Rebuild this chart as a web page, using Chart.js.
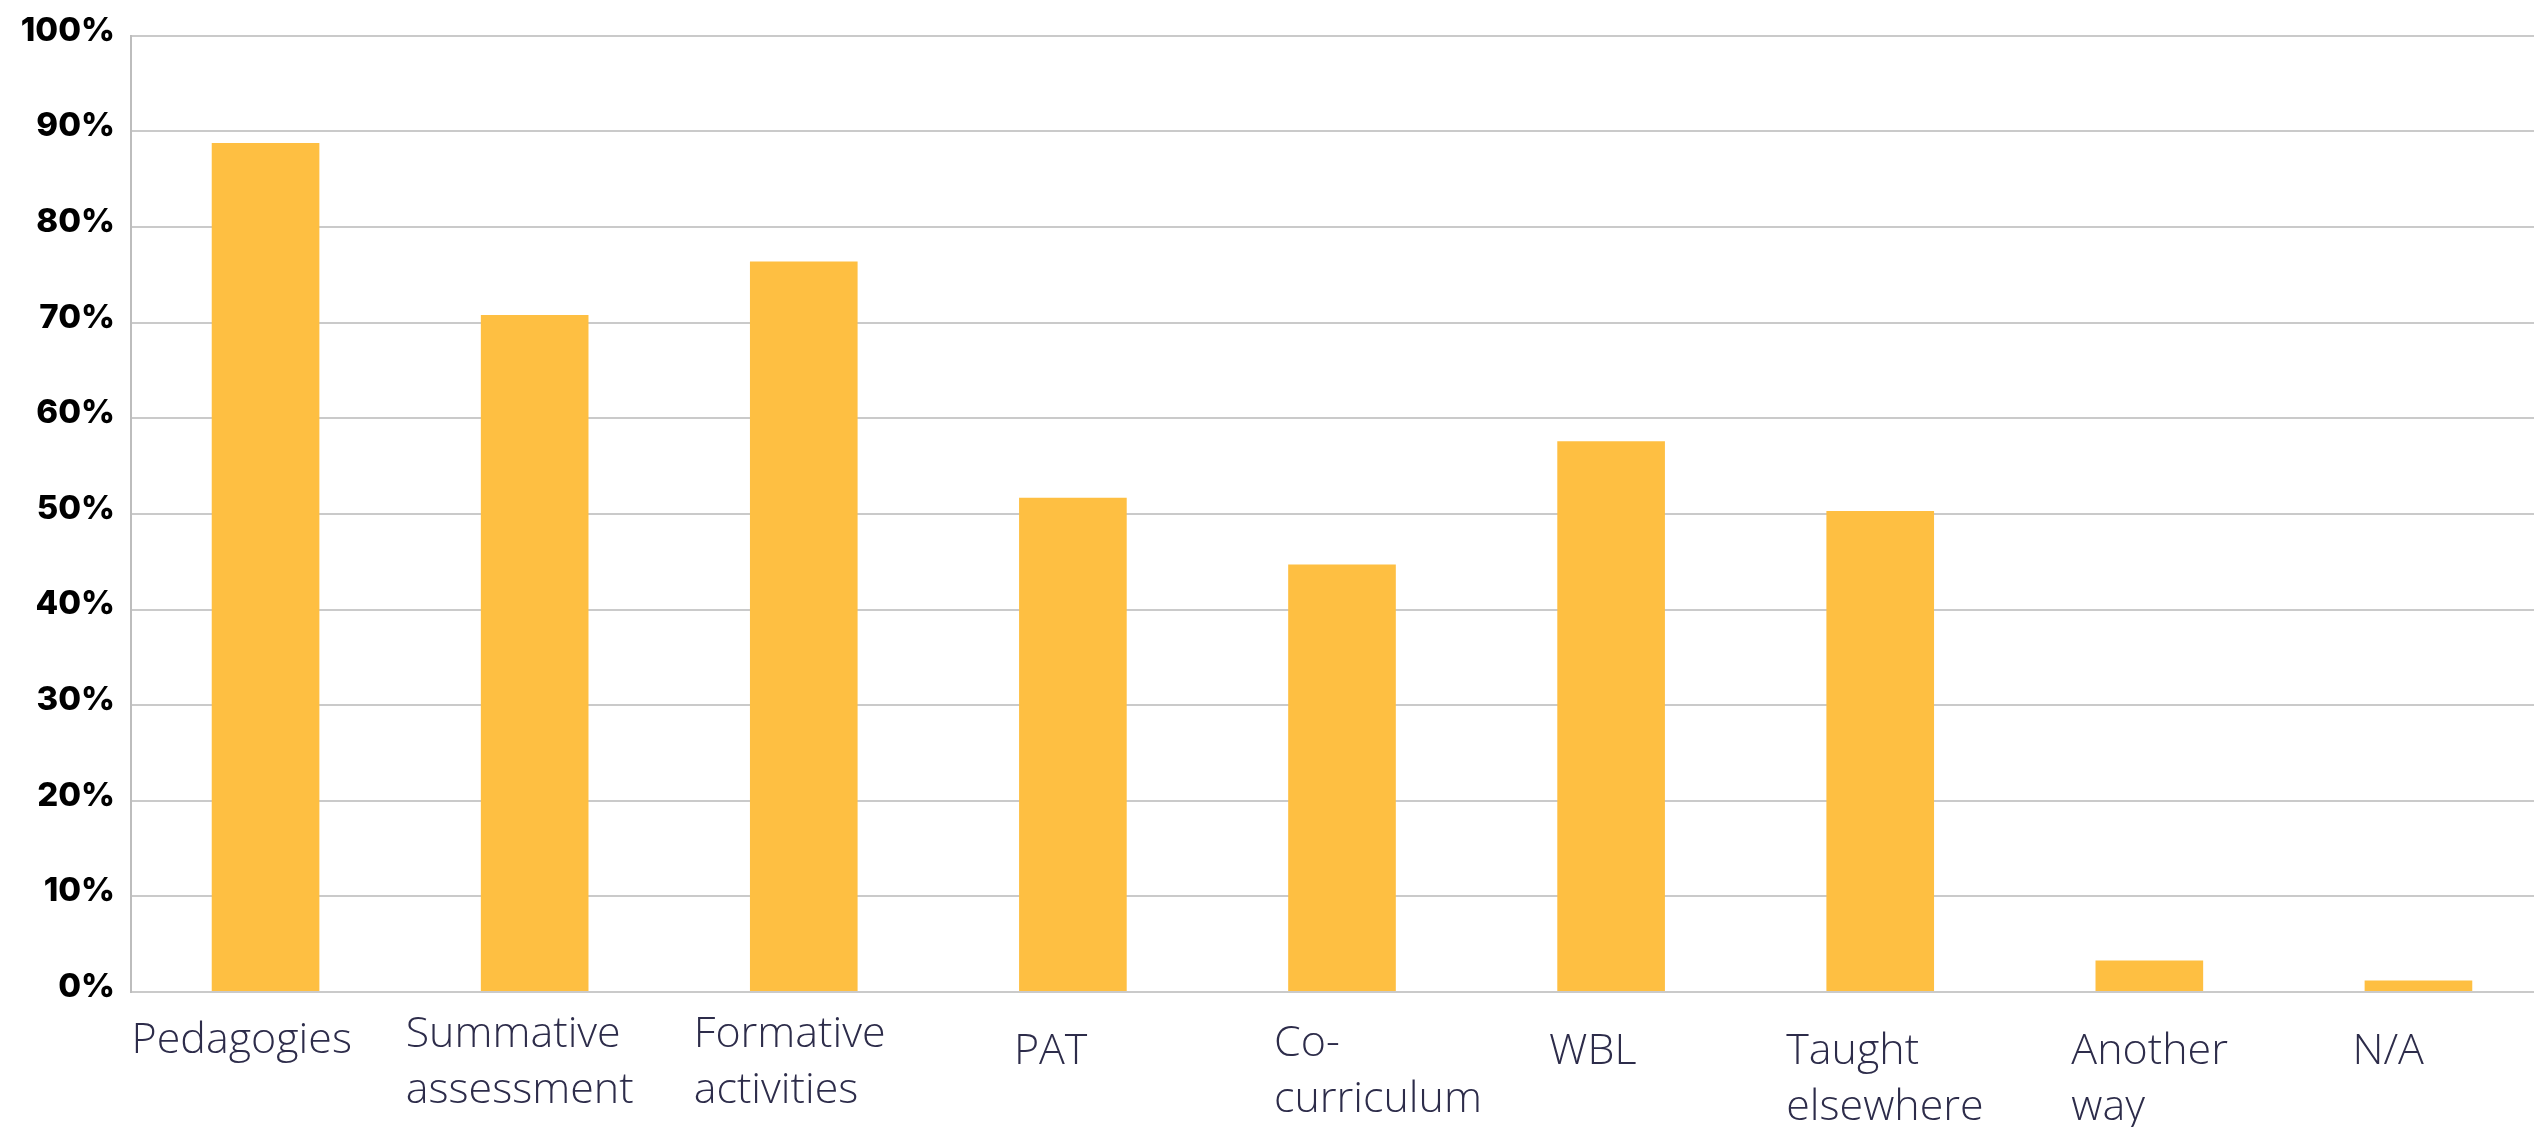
<!DOCTYPE html>
<html>
<head>
<meta charset="utf-8">
<script src="https://cdn.jsdelivr.net/npm/chart.js@4.4.1/dist/chart.umd.min.js"></script>
<style>
  html, body { margin: 0; padding: 0; background: #fff; overflow: hidden; }
  #wrap { width: 2553px; height: 1127px; position: relative; }
</style>
</head>
<body>
<div id="wrap"><canvas id="myChart"></canvas></div>
<script>
// category names, split into the lines they are printed on
const categories = [
  ["Pedagogies"],
  ["Summative", "assessment"],
  ["Formative", "activities"],
  ["PAT"],
  ["Co-", "curriculum"],
  ["WBL"],
  ["Taught", "elsewhere"],
  ["Another", "way"],
  ["N/A"],
];
// share of responses, percent
const shares = [88.8, 70.8, 76.4, 51.7, 44.7, 57.6, 50.3, 3.3, 1.2];
const yTicks = [0, 10, 20, 30, 40, 50, 60, 70, 80, 90, 100];

// where each label block starts: [left of bar centre, baseline below axis]
const labelShift = [
  [-134, 61], [-129, 55], [-110, 55], [-59, 72], [-68, 64],
  [-62, 72], [-94, 72], [-78, 72], [-66, 72],
];

const barColor = "#FEBF42";
const gridColor = "#cacaca";
const labelColor = "#2d2c4a";

// draws the category names as left-aligned blocks under each bar
const categoryLabels = {
  id: "categoryLabels",
  afterDraw(chart) {
    const { ctx, chartArea } = chart;
    const x = chart.scales.x;
    ctx.save();
    ctx.font = "300 43px 'Open Sans'";
    ctx.fillStyle = labelColor;
    ctx.textAlign = "left";
    ctx.textBaseline = "alphabetic";
    categories.forEach((lines, i) => {
      const [dx, dy] = labelShift[i];
      const left = x.getPixelForValue(i) + dx;
      lines.forEach((line, j) => {
        ctx.fillText(line, left, chartArea.bottom + dy + j * 56);
      });
    });
    ctx.restore();
  },
};

const ctx = document.getElementById("myChart");

new Chart(ctx, {
  type: "bar",
  data: {
    labels: categories.map((c) => c.join(" ")),
    datasets: [
      {
        label: "Share",
        data: shares,
        backgroundColor: barColor,
        borderWidth: 0,
        barPercentage: 0.8,
        categoryPercentage: 0.5,
      },
    ],
  },
  options: {
    responsive: true,
    maintainAspectRatio: false,
    animation: false,
    layout: {
      padding: { top: 31, right: 0, bottom: 135, left: 0 },
    },
    plugins: {
      legend: { display: false },
      tooltip: { enabled: false },
    },
    scales: {
      x: {
        grid: { display: false, drawTicks: false },
        border: { display: true, color: gridColor, width: 2 },
        ticks: { display: false },
        afterFit: (scale) => {
          scale.height = 0;
        },
      },
      y: {
        min: 0,
        max: 100,
        afterBuildTicks: (scale) => {
          scale.ticks = yTicks.map((v) => ({ value: v }));
        },
        afterFit: (scale) => {
          scale.width = 131;
        },
        grid: { color: gridColor, lineWidth: 2, drawTicks: false },
        border: { display: true, color: "#bdbdbd", width: 2 },
        ticks: {
          padding: 16,
          labelOffset: -5,
          color: "#000",
          font: { family: "Inter", size: 33, weight: "800" },
          callback: (v) => v + "%",
        },
      },
    },
  },
  plugins: [categoryLabels],
});
</script>
</body>
</html>
